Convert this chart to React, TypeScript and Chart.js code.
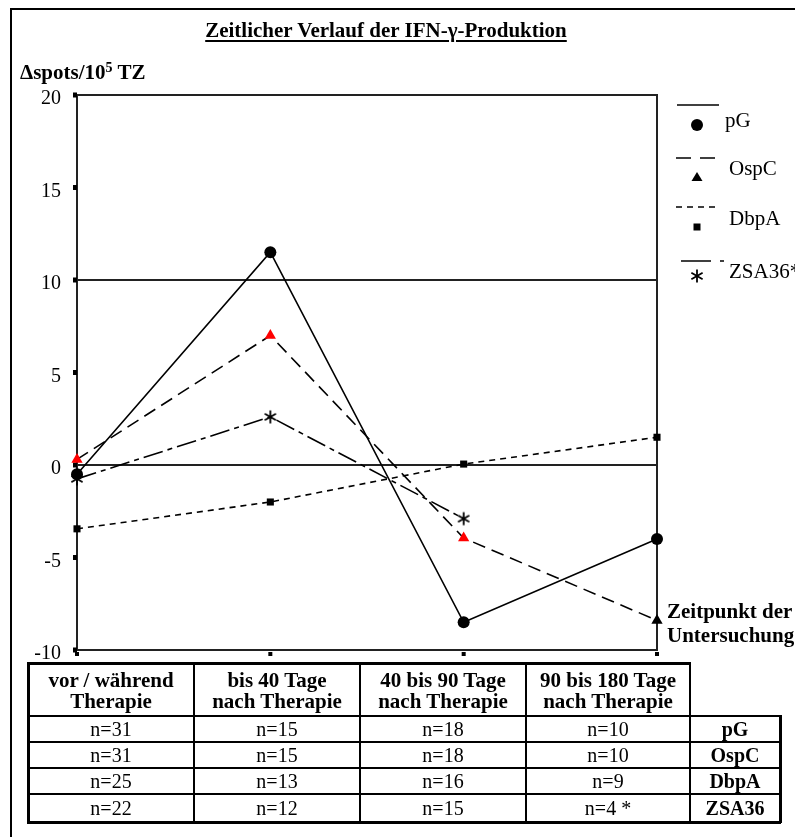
import React, { useEffect, useRef } from "react";
import { Chart, registerables } from "chart.js";

Chart.register(...registerables);

const categories = ["vor / während Therapie", "bis 40 Tage nach Therapie", "40 bis 90 Tage nach Therapie", "90 bis 180 Tage nach Therapie"];
const headerLines = [
  ["vor / während", "Therapie"],
  ["bis 40 Tage", "nach Therapie"],
  ["40 bis 90 Tage", "nach Therapie"],
  ["90 bis 180 Tage", "nach Therapie"],
];
const seriesNames = ["pG", "OspC", "DbpA", "ZSA36"];
const legendNames = ["pG", "OspC", "DbpA", "ZSA36*"];
const pG = [-0.5, 11.5, -8.5, -4.0];
const OspC = [0.3, 7.0, -3.95, -8.4];
const DbpA = [-3.45, -2.0, 0.05, 1.5];
const ZSA36 = [-0.75, 2.6, -2.9, null];
const nCounts = [
  ["n=31", "n=15", "n=18", "n=10"],
  ["n=31", "n=15", "n=18", "n=10"],
  ["n=25", "n=13", "n=16", "n=9"],
  ["n=22", "n=12", "n=15", "n=4 *"],
];
const yTicks = [20, 15, 10, 5, 0, -5, -10];
const gridValues = [10, 0];

const SERIF = "'Liberation Serif', 'Times New Roman', serif";

function makeAsterisk(): HTMLCanvasElement {
  const c = document.createElement("canvas");
  c.width = 16;
  c.height = 16;
  const ctx = c.getContext("2d")!;
  ctx.strokeStyle = "#000";
  ctx.lineWidth = 1.8;
  const r = 6.5;
  [90, 30, 150].forEach((deg) => {
    const a = (deg * Math.PI) / 180;
    ctx.beginPath();
    ctx.moveTo(8 - r * Math.cos(a), 8 - r * Math.sin(a));
    ctx.lineTo(8 + r * Math.cos(a), 8 + r * Math.sin(a));
    ctx.stroke();
  });
  return c;
}

export default function App() {
  const ref = useRef<HTMLCanvasElement>(null);

  useEffect(() => {
    const canvas = ref.current!;
    const asterisk = makeAsterisk();
    const dashes: number[][] = [[], [13, 7], [6, 5], [20, 5, 5, 5]];
    const legendDashes: number[][] = [[], [15, 9], [6, 5], [30, 9, 4, 20]];

    const framePlugin = {
      id: "frame",
      beforeDatasetsDraw(chart: any) {
        const { ctx, chartArea } = chart;
        const y = chart.scales.y;
        const x = chart.scales.x;
        ctx.save();
        ctx.strokeStyle = "#222";
        ctx.lineWidth = 2;
        gridValues.forEach((v) => {
          const py = Math.round(y.getPixelForValue(v));
          ctx.beginPath();
          ctx.moveTo(chartArea.left, py);
          ctx.lineTo(chartArea.right, py);
          ctx.stroke();
        });
        ctx.strokeRect(chartArea.left, chartArea.top, chartArea.right - chartArea.left, chartArea.bottom - chartArea.top);
        ctx.fillStyle = "#000";
        yTicks.forEach((v) => {
          const py = y.getPixelForValue(v);
          ctx.fillRect(chartArea.left - 4, py - 2.5, 4, 5);
        });
        categories.forEach((_, i) => {
          const px = x.getPixelForValue(i);
          ctx.fillRect(px - 2, chartArea.bottom + 2, 4, 4);
        });
        ctx.restore();
      },
      afterDraw(chart: any) {
        const { ctx } = chart;
        ctx.save();
        const rows = [
          { lineY: 105, x0: 677, x1: 719, markY: 125, textY: 127 },
          { lineY: 158, x0: 676, x1: 718, markY: 177, textY: 175 },
          { lineY: 207, x0: 676, x1: 720, markY: 227, textY: 225 },
          { lineY: 261, x0: 681, x1: 725, markY: 276, textY: 278 },
        ];
        rows.forEach((r, i) => {
          ctx.strokeStyle = "#000";
          ctx.lineWidth = 1.5;
          ctx.setLineDash(legendDashes[i]);
          ctx.beginPath();
          ctx.moveTo(r.x0, r.lineY);
          ctx.lineTo(r.x1, r.lineY);
          ctx.stroke();
          ctx.setLineDash([]);
          ctx.fillStyle = "#000";
          const mx = 697;
          const my = r.markY;
          if (i === 0) {
            ctx.beginPath();
            ctx.arc(mx, my, 6, 0, Math.PI * 2);
            ctx.fill();
          } else if (i === 1) {
            ctx.beginPath();
            ctx.moveTo(mx, my - 5);
            ctx.lineTo(mx + 5.5, my + 4);
            ctx.lineTo(mx - 5.5, my + 4);
            ctx.closePath();
            ctx.fill();
          } else if (i === 2) {
            ctx.fillRect(mx - 3.5, my - 3.5, 7, 7);
          } else {
            ctx.drawImage(asterisk, mx - 8, my - 8);
          }
          ctx.font = `21px ${SERIF}`;
          ctx.textAlign = "left";
          ctx.textBaseline = "alphabetic";
          ctx.fillText(legendNames[i], i === 0 ? 725 : 729, r.textY);
        });
        ctx.restore();
      },
    };

    const common = {
      borderColor: "#000",
      borderWidth: 1.6,
      fill: false,
      tension: 0,
      clip: false as any,
      pointBorderWidth: 0,
    };

    const chart = new Chart(canvas, {
      type: "line",
      data: {
        labels: categories,
        datasets: [
          { ...common, label: seriesNames[0], data: pG, pointStyle: "circle", pointRadius: 6, pointBackgroundColor: "#000", pointBorderColor: "#000" },
          { ...common, label: seriesNames[1], data: OspC, borderDash: dashes[1], pointStyle: "triangle", pointRadius: 6.5, pointBackgroundColor: ["#ff0000", "#ff0000", "#ff0000", "#000"], pointBorderColor: ["#ff0000", "#ff0000", "#ff0000", "#000"] },
          { ...common, label: seriesNames[2], data: DbpA, borderDash: dashes[2], pointStyle: "rect", pointRadius: 5, pointBackgroundColor: "#000", pointBorderColor: "#000" },
          { ...common, label: seriesNames[3], data: ZSA36 as any, borderDash: dashes[3], pointStyle: asterisk as any, pointRadius: 6, pointBackgroundColor: "#000", pointBorderColor: "#000" },
        ],
      },
      options: {
        responsive: false,
        animation: false,
        events: [],
        layout: { padding: { top: 95, right: 138, left: 0, bottom: 0 } },
        plugins: { legend: { display: false }, tooltip: { enabled: false }, title: { display: false } },
        scales: {
          x: {
            type: "category",
            offset: false,
            grid: { display: false, drawTicks: false },
            border: { display: false },
            ticks: { display: false },
            afterFit: (s: any) => {
              s.height = 187;
            },
          },
          y: {
            min: -10,
            max: 20,
            grid: { display: false, drawTicks: false },
            border: { display: false },
            ticks: { stepSize: 5, color: "#000", padding: 16, labelOffset: 4, font: { family: SERIF, size: 20 } },
            afterFit: (s: any) => {
              s.width = 77;
            },
          },
        },
      },
      plugins: [framePlugin],
    });
    return () => chart.destroy();
  }, []);

  const cx = [28, 194, 360, 526, 690, 780];
  const ry = [663, 716, 742, 768, 794, 822];
  const lines: React.ReactNode[] = [];
  const hl = (x0: number, x1: number, y: number, t: number, k: string) =>
    lines.push(<div key={k} style={{ position: "absolute", left: x0 - 1, top: y - t / 2, width: x1 - x0 + 2, height: t, background: "#000" }} />);
  const vl = (x: number, y0: number, y1: number, t: number, k: string) =>
    lines.push(<div key={k} style={{ position: "absolute", left: x - t / 2, top: y0 - 1, width: t, height: y1 - y0 + 2, background: "#000" }} />);
  hl(cx[0], cx[4], ry[0], 3, "h0");
  hl(cx[0], cx[5], ry[1], 2, "h1");
  hl(cx[0], cx[5], ry[2], 2, "h2");
  hl(cx[0], cx[5], ry[3], 2, "h3");
  hl(cx[0], cx[5], ry[4], 2, "h4");
  hl(cx[0], cx[5], ry[5], 3, "h5");
  vl(cx[0], ry[0], ry[5], 3, "v0");
  vl(cx[1], ry[0], ry[5], 2, "v1");
  vl(cx[2], ry[0], ry[5], 2, "v2");
  vl(cx[3], ry[0], ry[5], 2, "v3");
  vl(cx[4], ry[0], ry[5], 2, "v4");
  vl(cx[5], ry[1], ry[5], 3, "v5");

  const cells: React.ReactNode[] = [];
  headerLines.forEach((h, i) => {
    cells.push(
      <div key={"hd" + i} style={{ position: "absolute", left: cx[i], top: ry[0] + 7, width: cx[i + 1] - cx[i], textAlign: "center", fontWeight: "bold", fontSize: 21, lineHeight: "21px", whiteSpace: "nowrap" }}>
        {h[0]}
        <br />
        {h[1]}
      </div>
    );
  });
  nCounts.forEach((row, r) => {
    row.forEach((t, c) => {
      cells.push(
        <div key={`c${r}-${c}`} style={{ position: "absolute", left: cx[c], top: ry[r + 1], width: cx[c + 1] - cx[c], height: ry[r + 2] - ry[r + 1], lineHeight: `${ry[r + 2] - ry[r + 1]}px`, textAlign: "center", fontSize: 20 }}>
          {t}
        </div>
      );
    });
    cells.push(
      <div key={`n${r}`} style={{ position: "absolute", left: cx[4], top: ry[r + 1], width: cx[5] - cx[4], height: ry[r + 2] - ry[r + 1], lineHeight: `${ry[r + 2] - ry[r + 1]}px`, textAlign: "center", fontSize: 20, fontWeight: "bold" }}>
        {seriesNames[r]}
      </div>
    );
  });

  return (
    <div style={{ position: "absolute", left: 0, top: 0, width: 795, height: 837, overflow: "hidden", background: "#fff", fontFamily: SERIF, color: "#000" }}>
      <div style={{ position: "absolute", left: 10, top: 8, width: 2, height: 829, background: "#000" }} />
      <div style={{ position: "absolute", left: 10, top: 8, width: 785, height: 2, background: "#000" }} />
      <canvas ref={ref} width={795} height={837} style={{ position: "absolute", left: 0, top: 0, width: 795, height: 837 }} />
      <div style={{ position: "absolute", left: 0, top: 18, width: 772, textAlign: "center", fontWeight: "bold", fontSize: 21, lineHeight: "24px", textDecoration: "underline", textDecorationThickness: 2, textUnderlineOffset: 3, whiteSpace: "nowrap" }}>
        Zeitlicher Verlauf der IFN-γ-Produktion
      </div>
      <div style={{ position: "absolute", left: 20, top: 60, fontWeight: "bold", fontSize: 21, lineHeight: "24px", whiteSpace: "nowrap" }}>
        Δspots/10<sup style={{ fontSize: 14, verticalAlign: "7px", lineHeight: 0 }}>5</sup> TZ
      </div>
      <div style={{ position: "absolute", left: 667, top: 599, fontWeight: "bold", fontSize: 21, lineHeight: "24px", whiteSpace: "nowrap" }}>
        Zeitpunkt der
        <br />
        Untersuchung
      </div>
      {lines}
      {cells}
    </div>
  );
}
